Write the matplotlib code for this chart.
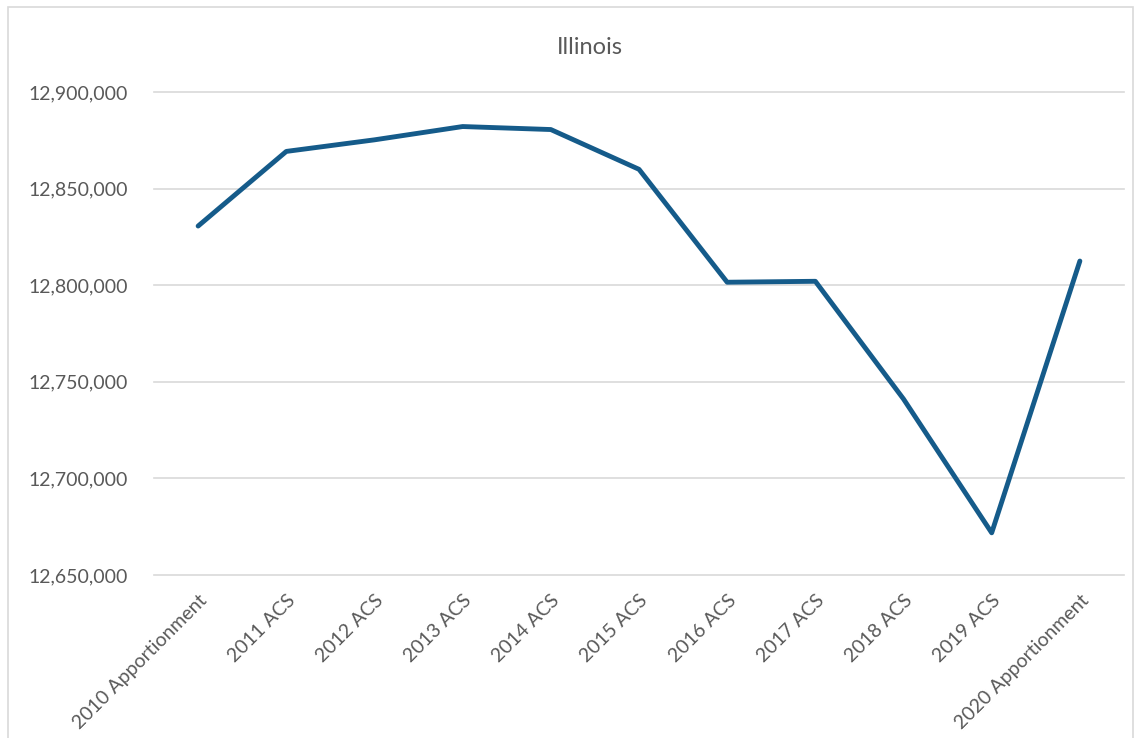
import matplotlib
matplotlib.use("Agg")
import matplotlib.pyplot as plt
from matplotlib.patches import Rectangle
from matplotlib.ticker import FuncFormatter

# ----------------------------------------------------------------------
# Data
# ----------------------------------------------------------------------
categories = ["2010 Apportionment", "2011 ACS", "2012 ACS", "2013 ACS",
              "2014 ACS", "2015 ACS", "2016 ACS", "2017 ACS", "2018 ACS",
              "2019 ACS", "2020 Apportionment"]
population = [12830632, 12869257, 12875255, 12882135, 12880580, 12859995,
              12801539, 12802023, 12741080, 12671821, 12812508]
y_ticks = [12650000, 12700000, 12750000, 12800000, 12850000, 12900000]

LINE_COLOR = "#155b8a"
TEXT_COLOR = "#595959"
GRID_COLOR = "#d9d9d9"

plt.rcParams["font.family"] = ["Lato", "DejaVu Sans"]

fig = plt.figure(figsize=(11.36, 7.38), dpi=100)
ax = fig.add_axes([0.1356, 0.2209, 0.8538, 0.6544])

x = range(len(categories))
ax.plot(x, population, color=LINE_COLOR, linewidth=3.5,
        solid_joinstyle="round", solid_capstyle="round", zorder=3)

ax.set_xlim(-0.5, len(categories) - 0.5)
ax.set_ylim(y_ticks[0], y_ticks[-1])
ax.set_yticks(y_ticks)
ax.yaxis.set_major_formatter(FuncFormatter(lambda v, _: f"{v:,.0f}"))
ax.set_xticks(list(x))
ax.set_xticklabels(categories, rotation=45, ha="right", rotation_mode="anchor")

ax.grid(axis="y", color=GRID_COLOR, linewidth=1.2)
for gl in ax.get_ygridlines():
    gl.set_clip_on(False)
ax.set_axisbelow(True)
for s in ax.spines.values():
    s.set_visible(False)
ax.tick_params(axis="both", length=0, colors=TEXT_COLOR, labelsize=14)
ax.tick_params(axis="y", pad=19)
ax.tick_params(axis="x", pad=12)

fig.text(0.519, 0.936, "Illinois", ha="center", va="center",
         fontsize=17, color=TEXT_COLOR)

# light frame round the chart area, as in the Excel export
fig.patches.append(Rectangle((0.007, -0.01), 0.99, 1.0, transform=fig.transFigure,
                             fill=False, edgecolor=GRID_COLOR, linewidth=1.2))

fig.savefig("out.png", dpi=100)
